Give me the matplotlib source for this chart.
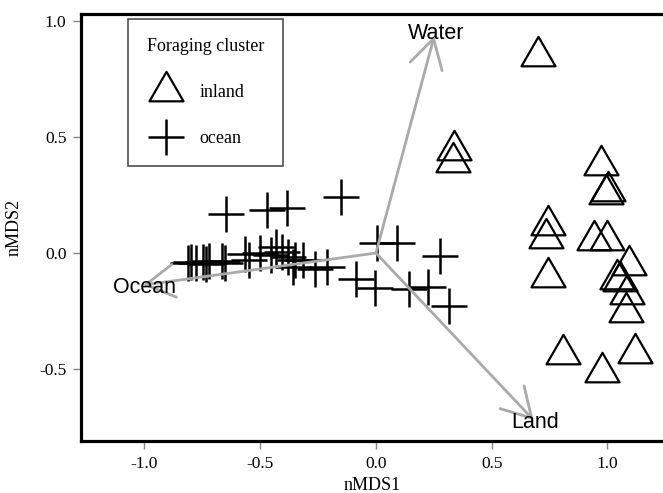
import matplotlib
matplotlib.use("Agg")
import matplotlib.pyplot as plt
from matplotlib.path import Path
from matplotlib.lines import Line2D
from matplotlib.patches import FancyArrowPatch

plt.rcParams['axes.unicode_minus'] = False
SERIF = ['Liberation Serif', 'DejaVu Serif']
SANS = ['Liberation Sans', 'DejaVu Sans']

# ---- data ----
inland_x = [0.698, 0.337, 0.331, 0.743, 0.733, 0.743, 0.974, 1.001, 0.995,
            0.942, 1.000, 1.094, 1.040, 1.054, 1.083, 1.080, 0.806, 1.119, 0.975]
inland_y = [0.851, 0.442, 0.392, 0.119, 0.065, -0.104, 0.381, 0.269, 0.255,
            0.057, 0.057, -0.051, -0.111, -0.119, -0.176, -0.252, -0.437, -0.432, -0.512]

ocean_x = [-0.648, -0.469, -0.383, -0.152,
           -0.812, -0.800, -0.778, -0.745, -0.735, -0.722, -0.664, -0.650,
           -0.565, -0.550, -0.500, -0.455, -0.430, -0.405, -0.380, -0.360,
           -0.350, -0.315,
           -0.263, -0.213, -0.088, -0.005, 0.006, 0.092, 0.143, 0.224, 0.276, 0.317]
ocean_y = [0.167, 0.185, 0.192, 0.240,
           -0.045, -0.040, -0.045, -0.040, -0.048, -0.035, -0.035, -0.045,
           -0.005, -0.030, -0.002, -0.010, 0.025, 0.004, -0.015, -0.060,
           -0.030, -0.030,
           -0.070, -0.062, -0.112, -0.152, 0.043, 0.045, -0.157, -0.147, -0.014, -0.228]

env_names = ['Water', 'Ocean', 'Land']
env_x = [0.252, -1.006, 0.681]
env_y = [0.935, -0.138, -0.720]

x_ticks = [-1.0, -0.5, 0.0, 0.5, 1.0]
x_ticklabels = ['-1.0', '-0.5', '0.0', '0.5', '1.0']
y_ticks = [-0.5, 0.0, 0.5, 1.0]
y_ticklabels = ['-0.5', '0.0', '0.5', '1.0']

# ---- figure ----
fig = plt.figure(figsize=(6.63, 4.93), dpi=100)
ax = fig.add_axes([81/663, 52/493, 582/663, 427/493])

tri = Path([(0, 1), (-0.866, -0.5), (0.866, -0.5), (0, 1)],
           [Path.MOVETO, Path.LINETO, Path.LINETO, Path.CLOSEPOLY])

ax.plot(inland_x, inland_y, linestyle='none', marker=tri, markersize=28.3,
        markerfacecolor='none', markeredgecolor='black', markeredgewidth=1.6)
ax.plot(ocean_x, ocean_y, linestyle='none', marker='+', markersize=26,
        markeredgecolor='black', markeredgewidth=1.8)

for name, ex, ey in zip(env_names, env_x, env_y):
    arr = FancyArrowPatch((0, 0), (ex, ey),
                          arrowstyle='->,head_length=2.06,head_width=1.19',
                          mutation_scale=10, color='#aaaaaa', lw=2.0,
                          shrinkA=0, shrinkB=0, zorder=4)
    ax.add_patch(arr)
    dy = 2 if name == 'Water' else -2
    ax.annotate(name, (ex, ey), xytext=(1, dy), textcoords='offset points',
                ha='center', va='center', fontsize=15.5, family=SANS,
                color='black', zorder=5)

ax.set_xlim(-1.274, 1.240)
ax.set_ylim(-0.810, 1.030)

ax.set_xticks(x_ticks)
ax.set_xticklabels(x_ticklabels, family=SERIF, fontsize=12.5)
ax.set_yticks(y_ticks)
ax.set_yticklabels(y_ticklabels, family=SERIF, fontsize=12.5)
ax.tick_params(direction='out', length=5.5, width=1, color='#888888', pad=5)

for side in ['left', 'top', 'bottom']:
    ax.spines[side].set_linewidth(2.3)
    ax.spines[side].set_color('black')
ax.spines['right'].set_visible(False)

ax.set_xlabel('nMDS1', family=SERIF, fontsize=13, labelpad=4)
ax.set_ylabel('nMDS2', family=SERIF, fontsize=13, labelpad=12)

handles = [
    Line2D([], [], linestyle='none', marker=tri, markersize=28.3,
           markerfacecolor='none', markeredgecolor='black', markeredgewidth=1.6),
    Line2D([], [], linestyle='none', marker='+', markersize=26,
           markeredgecolor='black', markeredgewidth=1.8),
]
leg = ax.legend(handles, ['inland', 'ocean'], title='Foraging cluster',
                loc='upper left', bbox_to_anchor=(0.080, 0.988),
                prop={'family': SERIF, 'size': 13},
                title_fontproperties={'family': SERIF, 'size': 13},
                frameon=True, fancybox=False, borderpad=1.05,
                handlelength=2.2, handletextpad=0.75, labelspacing=1.6,
                borderaxespad=0, alignment='left')
leg.get_frame().set_edgecolor('#222222')
leg.get_frame().set_linewidth(1.2)
leg.set_zorder(6)

fig.savefig('out.png', dpi=100)
